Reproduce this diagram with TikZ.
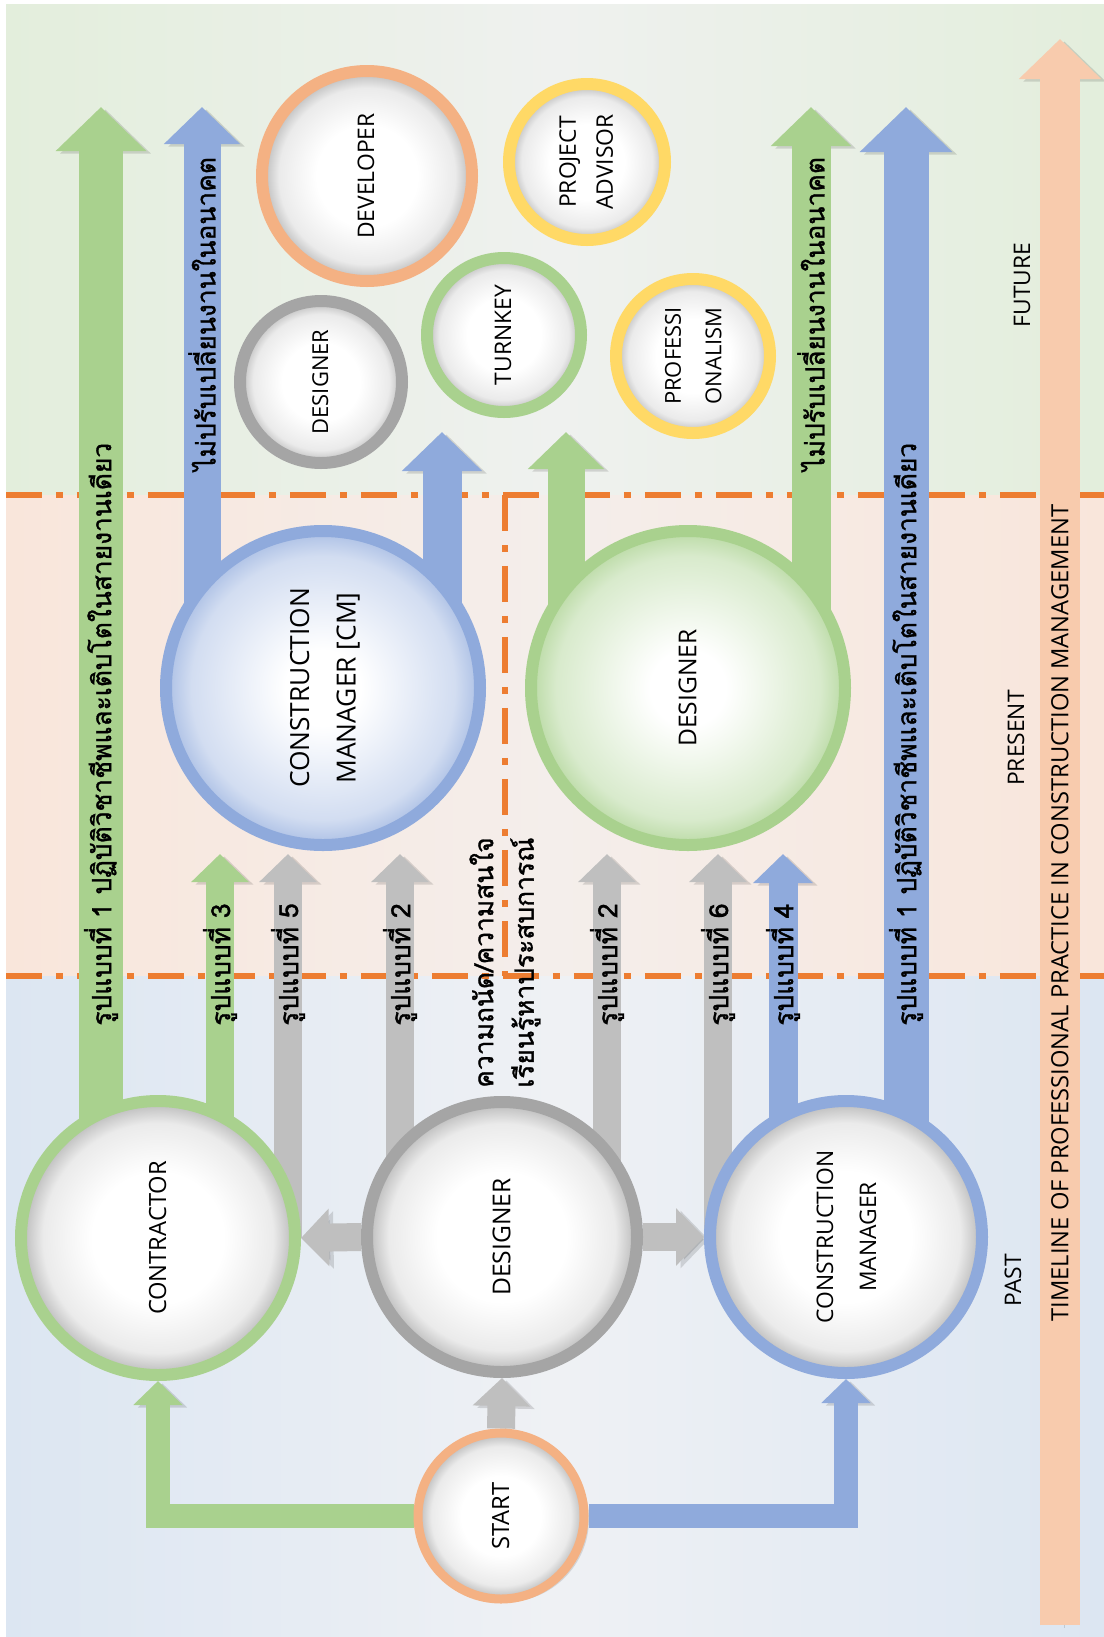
\documentclass[tikz,border=0pt]{standalone}
\usepackage{fontspec}
\setmainfont{Open Sans}
\newfontfamily\thaifont[Script=Thai, FakeBold=1.2]{Loma}
\usetikzlibrary{arrows.meta, shadows}

\definecolor{cgreen}{HTML}{A9D18E}
\definecolor{cblue}{HTML}{8FAADC}
\definecolor{cgray}{HTML}{BFBFBF}
\definecolor{cring}{HTML}{A5A5A5}
\definecolor{corange}{HTML}{F4B183}
\definecolor{cyellow}{HTML}{FFD966}
\definecolor{cpeach}{HTML}{F8CBAD}
\definecolor{cdash}{HTML}{ED7D31}
\definecolor{bandgreen}{HTML}{E3EEDC}
\definecolor{bandgreenmid}{HTML}{EFF1EF}
\definecolor{bandpink}{HTML}{F9E6DB}
\definecolor{bandpinkmid}{HTML}{F4EEEB}
\definecolor{bandblue}{HTML}{DCE6F2}
\definecolor{bandbluemid}{HTML}{EFF1F4}

\def\pxl{0.02cm}
\newcommand\uptext[1]{\rotatebox{90}{\begin{tabular}{@{}c@{}}#1\end{tabular}}}

% inner shadings of the circles
\pgfdeclareradialshading{ballgray}{\pgfpointorigin}{color(0bp)=(white); color(12bp)=(white); color(21bp)=(black!8); color(25bp)=(black!28); color(50bp)=(black!28)}
\pgfdeclareradialshading{ballblue}{\pgfpointorigin}{color(0bp)=(white); color(6bp)=(white); color(21bp)=(cblue!40); color(25bp)=(cblue!75); color(50bp)=(cblue!75)}
\pgfdeclareradialshading{ballgreen}{\pgfpointorigin}{color(0bp)=(white); color(6bp)=(white); color(21bp)=(cgreen!45); color(25bp)=(cgreen!80); color(50bp)=(cgreen!80)}

\pgfdeclarelayer{back}
\pgfdeclarelayer{bars}
\pgfsetlayers{back,bars,main}

\begin{document}
\begin{tikzpicture}[
  x=0.02cm, y=-0.02cm,
  rolecircle/.style={circle, draw=#1, line width=12*\pxl, inner sep=0pt,
    shading=ballgray, font=\fontsize{13.5}{23}\selectfont,
    drop shadow={shadow xshift=5*\pxl, shadow yshift=-3*\pxl, opacity=.25}},
  fatbar/.style={line width=#1*\pxl, -{Triangle[width=0pt 2, length=0pt 1]},
    preaction={draw=black, opacity=.13, transform canvas={shift={(0.09cm,-0.05cm)}}}},
  thailbl/.style={font=\thaifont\fontsize{15}{18}\selectfont, rotate=90, anchor=west, inner sep=0pt},
  era/.style={font=\fontsize{13}{16}\selectfont, rotate=90, inner sep=0pt},
  dashdot line/.style={cdash, line width=0.12cm, dash pattern=on 0.72cm off 0.28cm on 0.14cm off 0.28cm}
]
  \useasboundingbox (0,0) rectangle (1104,1637);

  % Past
  \node[rolecircle=cgreen, minimum size=274*\pxl] (contractor) at (158,1238) {\uptext{CONTRACTOR}};
  \node[rolecircle=cring, minimum size=270*\pxl, font=\fontsize{14}{24}\selectfont] (pastdes) at (502,1237) {\uptext{DESIGNER}};
  \node[rolecircle=cblue, minimum size=272*\pxl, font=\fontsize{13}{24.5}\selectfont] (pastcm) at (846,1237) {\uptext{CONSTRUCTION\\MANAGER}};
  \node[rolecircle=corange, minimum size=166*\pxl, line width=9*\pxl] (start) at (501,1516) {\uptext{START}};

  % Present
  \node[rolecircle=cblue, shading=ballblue, minimum size=314*\pxl, font=\fontsize{15}{26.5}\selectfont] (cmnow) at (323,688) {\uptext{CONSTRUCTION\\MANAGER [CM]}};
  \node[rolecircle=cgreen, shading=ballgreen, minimum size=314*\pxl, font=\fontsize{14}{24}\selectfont] (desnow) at (688,688) {\uptext{DESIGNER}};

  % Future
  \node[rolecircle=cring, minimum size=162*\pxl, font=\fontsize{12.5}{20}\selectfont] (futdes) at (321,382) {\uptext{DESIGNER}};
  \node[rolecircle=corange, minimum size=210*\pxl, font=\fontsize{13}{20}\selectfont] (developer) at (367,176) {\uptext{DEVELOPER}};
  \node[rolecircle=cgreen, minimum size=154*\pxl, font=\fontsize{13}{20}\selectfont] (turnkey) at (504,335) {\uptext{TURNKEY}};
  \node[rolecircle=cyellow, minimum size=156*\pxl, font=\fontsize{13}{21}\selectfont] (advisor) at (587,162) {\uptext{PROJECT\\ADVISOR}};
  \node[rolecircle=cyellow, minimum size=154*\pxl, font=\fontsize{12.5}{23}\selectfont] (profess) at (693,356) {\uptext{PROFESSI\\ONALISM}};

  % Arrows behind the circles
  \begin{pgfonlayer}{bars}
    \coordinate (g1) at (101,107);
    \coordinate (g3) at (220,854);
    \coordinate (g5) at (288,854);
    \coordinate (g2a) at (400,854);
    \coordinate (g2b) at (607,854);
    \coordinate (g6) at (718,854);
    \coordinate (b4) at (783,854);
    \coordinate (b1) at (906,107);
    \coordinate (bkeep) at (202,107);
    \coordinate (bnext) at (442,432);
    \coordinate (gnext) at (566,432);
    \coordinate (gkeep) at (811,107);
    \coordinate (tlbase) at (1060,1625);
    \coordinate (tltip) at (1060,39);

    \draw[fatbar=24, cgreen] (start.west) -| (contractor.south);
    \draw[fatbar=24, cblue] (start.east) -| (pastcm.south);
    \draw[fatbar=28, cgray] (start.north) -- (pastdes.south);
    \draw[fatbar=28, cgray] (pastdes.west) -- (contractor.east);
    \draw[fatbar=28, cgray] (pastdes.east) -- (pastcm.west);

    \draw[fatbar=44, cgreen] (g1 |- contractor.center) -- (g1);
    \draw[fatbar=28, cgreen] (g3 |- contractor.center) -- (g3);
    \draw[fatbar=28, cgray] (g5 |- contractor.center) -- (g5);
    \draw[fatbar=28, cgray] (g2a |- pastdes.center) -- (g2a);
    \draw[fatbar=28, cgray] (g2b |- pastdes.center) -- (g2b);
    \draw[fatbar=28, cgray] (g6 |- pastcm.center) -- (g6);
    \draw[fatbar=29, cblue] (b4 |- pastcm.center) -- (b4);
    \draw[fatbar=45, cblue] (b1 |- pastcm.center) -- (b1);

    \draw[fatbar=37, cblue] (bkeep |- cmnow.center) -- (bkeep);
    \draw[fatbar=39, cblue] (bnext |- cmnow.center) -- (bnext);
    \draw[fatbar=37, cgreen] (gnext |- desnow.center) -- (gnext);
    \draw[fatbar=39, cgreen] (gkeep |- desnow.center) -- (gkeep);

    \draw[fatbar=40, cpeach] (tlbase) -- (tltip);
  \end{pgfonlayer}

  % Labels on the arrows
  \node[thailbl] (lbl1a) at (101,1026) {รูปแบบที่ 1 ปฏิบัติวิชาชีพและเติบโตในสายงานเดียว};
  \node[thailbl] (lbl3) at (220,1026) {รูปแบบที่ 3};
  \node[thailbl] (lbl5) at (288,1026) {รูปแบบที่ 5};
  \node[thailbl] (lbl2a) at (400,1026) {รูปแบบที่ 2};
  \node[thailbl, align=left, font=\thaifont\fontsize{15}{23}\selectfont] (interest) at (505,1088) {ความถนัด/ความสนใจ\\เรียนรู้หาประสบการณ์};
  \node[thailbl] (lbl2b) at (607,1026) {รูปแบบที่ 2};
  \node[thailbl] (lbl6) at (718,1026) {รูปแบบที่ 6};
  \node[thailbl] (lbl4) at (783,1026) {รูปแบบที่ 4};
  \node[thailbl] (lbl1b) at (906,1026) {รูปแบบที่ 1 ปฏิบัติวิชาชีพและเติบโตในสายงานเดียว};
  \node[thailbl] (keep1) at (202,471) {ไม่ปรับเปลี่ยนงานในอนาคต};
  \node[thailbl] (keep2) at (811,471) {ไม่ปรับเปลี่ยนงานในอนาคต};

  % Eras and timeline
  \node[era] (past) at (1013,1280) {PAST};
  \node[era] (present) at (1016,738) {PRESENT};
  \node[era] (future) at (1022,285) {FUTURE};
  \node[era, font=\fontsize{13.5}{16}\selectfont] (timeline) at (1060,913) {TIMELINE OF PROFESSIONAL PRACTICE IN CONSTRUCTION MANAGEMENT};

  % Background bands and era borders
  \begin{pgfonlayer}{back}
    \fill[white] (0,0) rectangle (1104,1637);
    \fill[left color=bandgreen, right color=bandgreen, middle color=bandgreenmid] (6,4) rectangle (1104,495);
    \fill[left color=bandpink, right color=bandpink, middle color=bandpinkmid] (6,495) rectangle (1104,976);
    \fill[left color=bandblue, right color=bandblue, middle color=bandbluemid] (6,976) rectangle (1104,1637);
    \draw[dashdot line] (6,495) -- (1104,495);
    \draw[dashdot line] (6,976) -- (1104,976);
    \draw[dashdot line] (505,495) -- (505,976);
  \end{pgfonlayer}
\end{tikzpicture}
\end{document}
